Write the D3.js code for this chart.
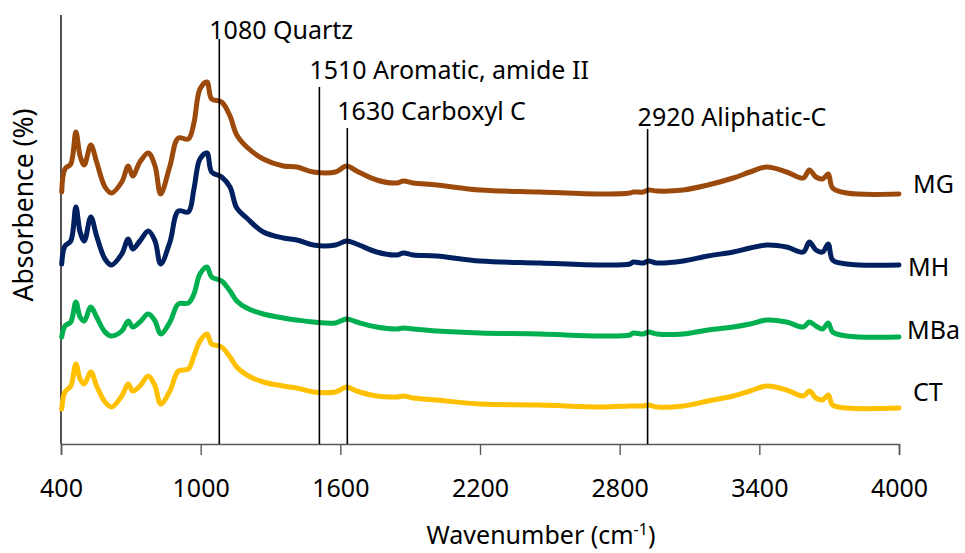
<!DOCTYPE html>
<html>
<head>
<meta charset="utf-8">
<script src="https://cdn.jsdelivr.net/npm/d3@7"></script>
<style>
  html, body { margin: 0; padding: 0; background: #fff; }
  svg { display: block; font-family: "Noto Sans", "Open Sans", sans-serif; }
</style>
</head>
<body>
<svg id="chart" width="965" height="553"></svg>
<script>
// FTIR spectra, stacked by sample (arbitrary absorbance units)
const wavenumbers = [403, 417, 442, 464, 482, 500, 528, 553, 589, 617, 661, 689, 708, 739, 775, 804, 828, 868, 904, 947,
  971, 997, 1027, 1047, 1090, 1126, 1155, 1198, 1269, 1355, 1413, 1484, 1579, 1627, 1670, 1756, 1842, 1871, 1913, 2014,
  2200, 2458, 2715, 2844, 2859, 2901, 2923, 2960, 3073, 3179, 3288, 3360, 3432, 3517, 3589, 3615, 3643, 3672, 3696, 3715,
  3775, 4000];

const seriesNames = ["MG", "MH", "MBa", "CT"];

const valuesMG = [25.2, 27.5, 28.0, 31.2, 28.8, 27.9, 29.9, 28.2, 25.7, 25.1, 26.2, 27.8, 26.8, 28.2, 29.1, 27.8, 25.0, 27.8, 30.6, 30.5,
  32.1, 35.5, 36.2, 34.5, 34.2, 32.8, 30.9, 29.7, 28.5, 27.8, 27.7, 27.2, 27.2, 27.8, 27.3, 26.4, 26.1, 26.3, 26.1, 25.9,
  25.4, 25.2, 25.0, 25.1, 25.2, 25.2, 25.4, 25.3, 25.4, 25.9, 26.6, 27.2, 27.7, 27.2, 26.6, 27.4, 26.7, 26.5, 27.0, 25.6,
  25.1, 25.0];
const valuesMH = [18.0, 19.8, 20.3, 23.7, 21.2, 20.3, 22.7, 20.8, 18.5, 17.9, 19.0, 20.5, 19.5, 20.3, 21.3, 20.3, 18.0, 20.2, 23.3, 23.2,
  25.5, 28.5, 29.1, 27.2, 26.7, 25.7, 23.6, 22.6, 21.2, 20.6, 20.4, 19.9, 19.9, 20.3, 20.0, 19.2, 18.9, 19.1, 18.9, 18.8,
  18.3, 18.1, 17.9, 18.0, 18.2, 18.1, 18.3, 18.1, 18.3, 18.8, 19.2, 19.6, 19.9, 19.7, 19.2, 20.2, 19.4, 19.2, 20.0, 18.4,
  18.0, 17.9];
const valuesMBa = [10.7, 11.8, 12.2, 14.2, 12.7, 12.3, 13.7, 12.7, 11.2, 10.8, 11.3, 12.3, 11.7, 12.2, 13.0, 12.3, 11.0, 12.2, 14.0, 14.1,
  15.0, 17.0, 17.7, 16.7, 16.3, 15.3, 14.3, 13.6, 13.0, 12.6, 12.4, 12.2, 12.1, 12.5, 12.2, 11.7, 11.5, 11.6, 11.5, 11.3,
  11.1, 11.0, 10.8, 10.9, 11.1, 11.0, 11.2, 11.0, 11.0, 11.4, 11.7, 12.0, 12.4, 12.2, 11.7, 12.2, 11.8, 11.5, 12.1, 11.2,
  10.8, 10.7];
const valuesCT = [3.5, 5.2, 5.8, 8.0, 6.5, 6.0, 7.2, 5.8, 4.2, 3.7, 4.8, 6.0, 5.3, 5.8, 6.8, 5.8, 4.0, 5.3, 7.3, 7.5,
  8.8, 10.3, 11.0, 10.0, 9.7, 8.7, 7.7, 6.9, 6.2, 5.8, 5.6, 5.2, 5.2, 5.7, 5.3, 4.8, 4.7, 4.8, 4.6, 4.4,
  4.0, 3.9, 3.7, 3.8, 3.8, 3.8, 3.9, 3.7, 3.8, 4.3, 4.8, 5.3, 5.8, 5.4, 4.8, 5.3, 4.6, 4.4, 4.9, 3.9,
  3.6, 3.6];

const xTicks = [400, 1000, 1600, 2200, 2800, 3400, 4000];

// Band assignments marked with vertical guide lines
const bandPositions = [1080, 1510, 1630, 2920];
const bandNames = ["Quartz", "Aromatic, amide II", "Carboxyl C", "Aliphatic-C"];

const xTitle = "Wavenumber (cm";
const yTitle = "Absorbence (%)";

// ---- layout ----
const svg = d3.select("#chart");
const plot = { left: 61, right: 899, top: 15, bottom: 444 };
const colors = { MG: "#9C4A0C", MH: "#002060", MBa: "#00B050", CT: "#FFC000" };
const seriesValues = { MG: valuesMG, MH: valuesMH, MBa: valuesMBa, CT: valuesCT };

const x = d3.scaleLinear().domain([400, 4000]).range([plot.left, plot.right]);
const y = d3.scaleLinear().domain([0, 42.9]).range([plot.bottom, plot.top]);

// x axis
const xAxis = d3.axisBottom(x).tickValues(xTicks).tickSize(11).tickPadding(24).tickFormat(d3.format("d"));
const gx = svg.append("g").attr("transform", `translate(0,${plot.bottom})`).call(xAxis);
gx.select(".domain").attr("stroke", "#595959").attr("stroke-width", 1.6);
gx.selectAll(".tick line").attr("stroke", "#595959").attr("stroke-width", 1.4);
gx.selectAll(".tick text").attr("font-size", 25).attr("fill", "#000")
  .attr("font-family", "'Noto Sans', sans-serif");

// y axis line (no ticks)
svg.append("line")
  .attr("x1", plot.left).attr("x2", plot.left)
  .attr("y1", plot.top).attr("y2", plot.bottom)
  .attr("stroke", "#404040").attr("stroke-width", 1.8);

// spectra
const line = d3.line()
  .x((d, i) => x(wavenumbers[i]))
  .y(d => y(d))
  .curve(d3.curveCatmullRom.alpha(0.5));

seriesNames.forEach(name => {
  svg.append("path")
    .datum(seriesValues[name])
    .attr("fill", "none")
    .attr("stroke", colors[name])
    .attr("stroke-width", 5)
    .attr("stroke-linejoin", "round")
    .attr("stroke-linecap", "round")
    .attr("d", line);
});

// band guide lines and their labels
const labelBaselines = [39, 79, 120, 126];
const lineGaps = [0, 8, 8, 3];
bandPositions.forEach((wn, i) => {
  const px = x(wn);
  svg.append("line")
    .attr("x1", px).attr("x2", px)
    .attr("y1", labelBaselines[i] + lineGaps[i]).attr("y2", plot.bottom)
    .attr("stroke", "#000").attr("stroke-width", 1.6);
  svg.append("text")
    .attr("x", px - 10).attr("y", labelBaselines[i])
    .attr("font-size", 25).attr("fill", "#000")
    .text(`${wn} ${bandNames[i]}`);
});

// series labels at the right end
const seriesLabelPos = { MG: [913, 193], MH: [908, 276], MBa: [907, 339], CT: [913, 401] };
seriesNames.forEach(name => {
  svg.append("text")
    .attr("x", seriesLabelPos[name][0]).attr("y", seriesLabelPos[name][1])
    .attr("font-size", 25).attr("fill", "#000")
    .text(name);
});

// axis titles
const xt = svg.append("text")
  .attr("x", 541).attr("y", 544)
  .attr("text-anchor", "middle")
  .attr("font-size", 25).attr("fill", "#000");
xt.append("tspan").text(xTitle);
xt.append("tspan").attr("dy", -9).attr("font-size", 16).text("-1");
xt.append("tspan").attr("dy", 9).text(")");

svg.append("text")
  .attr("transform", "translate(33,205) rotate(-90)")
  .attr("text-anchor", "middle")
  .attr("font-size", 26.5).attr("fill", "#000")
  .text(yTitle);
</script>
</body>
</html>
